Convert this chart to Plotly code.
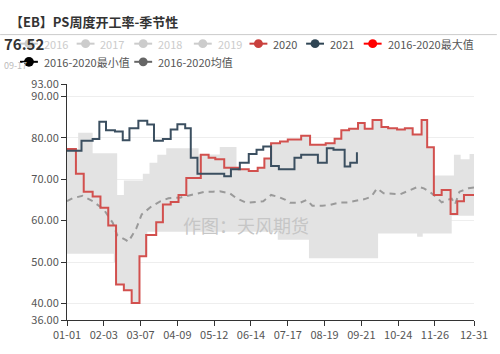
import pandas as pd
import plotly.graph_objects as go

# ---------------- data (day offset from 01-01, value) ----------------
days_2020 = [0, 8, 15, 23, 30, 37, 44, 51, 58, 65, 71, 80, 86, 93, 100, 107, 120, 127, 133, 141,
             154, 163, 171, 177, 183, 191, 198, 210, 218, 232, 240, 246, 253, 261, 267, 274, 282,
             288, 296, 303, 310, 318, 323, 329, 336, 344, 350, 356, 365]
vals_2020 = [77.3, 71.3, 67.0, 65.8, 63.1, 58.8, 44.6, 43.2, 40.1, 51.4, 56.5, 59.6, 63.9, 64.5,
             66.2, 70.3, 75.9, 75.2, 74.8, 72.8, 72.4, 72.0, 72.8, 75.0, 78.7, 79.1, 79.6, 80.5,
             78.3, 78.7, 79.8, 81.8, 82.2, 83.6, 82.2, 84.3, 82.6, 82.3, 82.0, 82.3, 80.8, 84.3,
             77.7, 66.2, 67.4, 61.6, 64.7, 66.2, 66.2]

days_2021 = [0, 13, 23, 29, 35, 43, 50, 56, 64, 72, 78, 86, 93, 99, 106, 111, 117, 141, 147, 155,
             163, 170, 176, 183, 190, 204, 210, 225, 233, 239, 249, 254, 260]
vals_2021 = [76.9, 79.3, 79.7, 83.9, 81.8, 81.5, 79.4, 82.3, 84.1, 83.2, 79.3, 79.7, 82.0, 83.3,
             82.3, 75.2, 71.3, 70.7, 72.4, 74.0, 76.1, 77.1, 77.9, 73.2, 72.4, 75.2, 75.9, 74.0,
             77.5, 77.1, 73.1, 74.0, 76.52]

days_max = [0, 10, 23, 45, 51, 68, 74, 81, 89, 118, 137, 152, 154, 163, 171, 177, 183, 191, 198,
            210, 218, 232, 240, 246, 253, 261, 267, 274, 282, 288, 296, 303, 310, 318, 323, 329,
            347, 353, 361, 365]
vals_max = [77.3, 81.2, 76.3, 66.2, 69.7, 71.3, 74.0, 75.9, 77.5, 76.0, 77.8, 72.8, 72.4, 72.0,
            72.8, 75.0, 78.7, 79.1, 79.6, 80.5, 78.3, 78.7, 79.8, 81.8, 82.2, 83.6, 82.2, 84.3,
            82.6, 82.3, 82.0, 82.3, 80.8, 84.3, 77.7, 70.9, 75.9, 74.8, 76.1, 76.1]

days_min = [0, 42, 44, 51, 58, 65, 72, 189, 217, 279, 314, 319, 345, 365]
vals_min = [52.0, 49.9, 44.6, 43.2, 40.1, 51.4, 57.3, 55.4, 50.9, 56.9, 56.1, 56.9, 61.2, 61.2]

days_mean = [0, 5, 14, 23, 33, 41, 45, 48, 53, 55, 62, 67, 76, 84, 91, 102, 115, 124, 131, 137,
             146, 152, 161, 168, 176, 183, 190, 196, 200, 209, 215, 220, 229, 236, 245, 251, 258,
             264, 267, 273, 278, 284, 291, 299, 308, 315, 320, 325, 332, 336, 341, 345, 348, 352,
             360, 365]
vals_mean = [64.7, 65.4, 66.0, 64.7, 62.7, 59.5, 56.5, 56.1, 55.3, 54.9, 58.0, 61.5, 63.5, 64.7,
             65.4, 65.6, 66.4, 67.0, 67.0, 67.1, 66.6, 65.4, 64.3, 64.5, 64.7, 66.2, 65.7, 65.0,
             64.3, 64.3, 65.0, 63.6, 63.6, 63.8, 64.4, 64.4, 64.7, 64.9, 65.2, 65.8, 67.8, 66.6,
             66.5, 66.4, 67.4, 68.2, 67.8, 67.0, 65.5, 64.4, 65.0, 65.3, 63.9, 67.0, 67.8, 68.0]

tick_dates = ["2020-01-01", "2020-02-03", "2020-03-07", "2020-04-09", "2020-05-12", "2020-06-14",
              "2020-07-17", "2020-08-19", "2020-09-21", "2020-10-24", "2020-11-26", "2020-12-31"]
tick_labels = ["01-01", "02-03", "03-07", "04-09", "05-12", "06-14", "07-17", "08-19", "09-21",
               "10-24", "11-26", "12-31"]
y_ticks = [36, 40, 50, 60, 70, 80, 90, 93]

legend_names = ["2016", "2017", "2018", "2019", "2020", "2021", "2016-2020最大值",
                "2016-2020最小值", "2016-2020均值"]
legend_colors = ["#cccccc", "#cccccc", "#cccccc", "#cccccc", "#c9403d", "#2f4554", "#ff0000",
                 "#000000", "#666666"]
legend_active = [False, False, False, False, True, True, True, True, True]

BASE = pd.Timestamp("2020-01-01")


def to_dates(days):
    return [BASE + pd.Timedelta(days=d) for d in days]


FONT = "Noto Sans CJK SC, Noto Sans, sans-serif"

fig = go.Figure()
fig.add_trace(go.Scatter(x=to_dates(days_min), y=vals_min, mode="lines",
                         line=dict(width=0, shape="hv", color="#e3e3e3"),
                         hoverinfo="skip", showlegend=False))
fig.add_trace(go.Scatter(x=to_dates(days_max), y=vals_max, mode="lines",
                         line=dict(width=0, shape="hv", color="#e3e3e3"),
                         fill="tonexty", fillcolor="#e3e3e3",
                         hoverinfo="skip", showlegend=False))
fig.add_trace(go.Scatter(x=to_dates(days_mean), y=vals_mean, mode="lines",
                         line=dict(width=2, color="#9a9a9a", dash="6px,5px"),
                         hoverinfo="skip", showlegend=False))
fig.add_trace(go.Scatter(x=to_dates(days_2020), y=vals_2020, mode="lines",
                         line=dict(width=2, color="#d2504e", shape="hv"),
                         hoverinfo="skip", showlegend=False))
fig.add_trace(go.Scatter(x=to_dates(days_2021), y=vals_2021, mode="lines",
                         line=dict(width=2, color="#3b4f60", shape="hv"),
                         hoverinfo="skip", showlegend=False))

# ---------------- layout geometry ----------------
L, R, T, B = 67.3, 477.0, 83.5, 328.1
W, H = R - L, B - T


def px(x):
    return (x - L) / W


def py(y):
    return (B - y) / H


shapes = []
annotations = []

# title and underline
annotations.append(dict(x=px(8), y=py(19), xref="paper", yref="paper", xanchor="left",
                        yanchor="middle", showarrow=False,
                        text="<b>【EB】PS周度开工率-季节性</b>",
                        font=dict(family=FONT, size=13, color="#333333")))
shapes.append(dict(type="line", xref="paper", yref="paper", x0=px(0), x1=px(500),
                   y0=py(32.3), y1=py(32.3), line=dict(color="#cccccc", width=1)))

# manual legend
legend_pos = [(20, 41.7), (77, 41.7), (135, 41.7), (195, 41.7), (251, 41.7), (308, 41.7),
              (366, 41.7), (20, 60.5), (135, 60.5)]
for name, col, act, (mx, my) in zip(legend_names, legend_colors, legend_active, legend_pos):
    shapes.append(dict(type="line", xref="paper", yref="paper", x0=px(mx), x1=px(mx + 18),
                       y0=py(my), y1=py(my), line=dict(color=col, width=2)))
    r = 4.5 if name != "2016-2020最小值" else 5
    cx = mx + 9
    shapes.append(dict(type="circle", xref="paper", yref="paper", x0=px(cx - r), x1=px(cx + r),
                       y0=py(my + r), y1=py(my - r), fillcolor=col, line=dict(color=col, width=0)))
    annotations.append(dict(x=px(mx + 22), y=py(my), xref="paper", yref="paper",
                            xanchor="left", yanchor="middle", showarrow=False, text=name,
                            font=dict(family=FONT, size=11,
                                      color="#555555" if act else "#cccccc")))

# tooltip-like value label
annotations.append(dict(x=px(2), y=py(64), xref="paper", yref="paper", xanchor="left",
                        yanchor="middle", showarrow=False, text="09-17",
                        font=dict(family=FONT, size=9, color="#bbbbbb")))
annotations.append(dict(x=px(2), y=py(42), xref="paper", yref="paper", xanchor="left",
                        yanchor="middle", showarrow=False, text="<b>76.52</b>",
                        font=dict(family=FONT, size=15, color="#333333")))

# watermark
annotations.append(dict(x=px(247), y=py(230), xref="paper", yref="paper", xanchor="center",
                        yanchor="middle", showarrow=False, text="作图：天风期货",
                        font=dict(family=FONT, size=18, color="#c6c6c6")))

fig.update_layout(
    width=500, height=354,
    margin=dict(l=L, r=500 - R, t=T, b=354 - B, pad=0),
    paper_bgcolor="white", plot_bgcolor="white",
    showlegend=False,
    shapes=shapes, annotations=annotations,
    font=dict(family=FONT, size=11, color="#555555"),
)
fig.update_xaxes(type="date", range=[BASE, BASE + pd.Timedelta(days=365)],
                 tickvals=tick_dates, ticktext=tick_labels, showgrid=False,
                 showline=True, linecolor="#333333", linewidth=1,
                 ticks="outside", ticklen=5, tickcolor="#333333",
                 tickfont=dict(family=FONT, size=11, color="#555555"), zeroline=False)
fig.update_yaxes(range=[36, 93], tickvals=y_ticks, ticktext=[f"{v:.2f}" for v in y_ticks],
                 showgrid=True, gridcolor="#eeeeee", gridwidth=1,
                 showline=True, linecolor="#333333", linewidth=1,
                 ticks="outside", ticklen=5, tickcolor="#333333",
                 tickfont=dict(family=FONT, size=11, color="#555555"), zeroline=False)

fig.write_html("out.html")
